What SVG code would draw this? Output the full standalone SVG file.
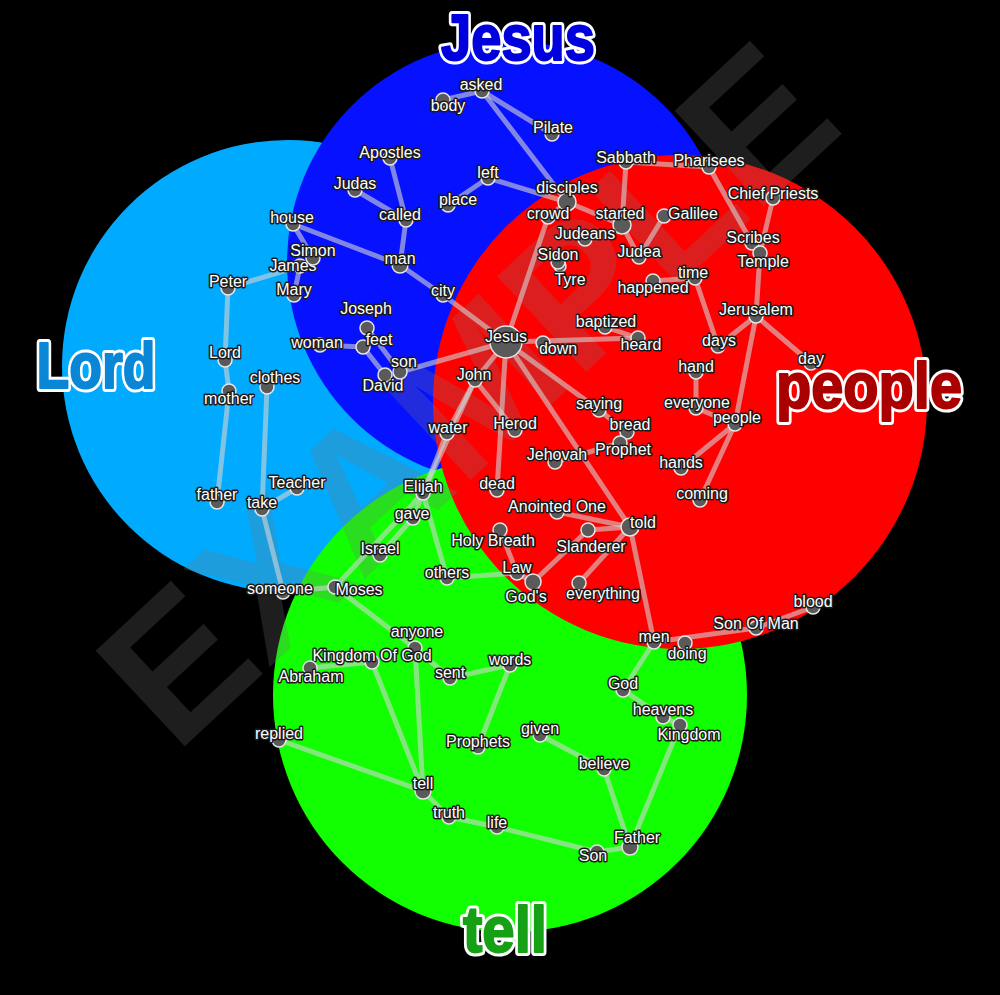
<svg xmlns="http://www.w3.org/2000/svg" width="1000" height="995" viewBox="0 0 1000 995">
<style>
.e{stroke:#d4d4d4;stroke-opacity:0.6;stroke-width:5;stroke-linecap:round;fill:none}
.n circle{fill:#5a5a5a;stroke:#e6e6e6;stroke-width:1.5}
.n text{font-family:"Liberation Sans",Arial,sans-serif;font-size:16px;fill:#fff;stroke:#1a1a1a;stroke-width:3;paint-order:stroke;stroke-linejoin:round;text-anchor:middle}
.t{font-family:"Liberation Sans",Arial,sans-serif;font-weight:bold;font-size:64px;stroke-linejoin:round;text-anchor:middle}
.to{stroke:#fff;stroke-width:8;fill:#fff}
</style>
<rect width="1000" height="995" fill="#000"/>
<g id="sets">
<circle cx="288" cy="366" r="226" fill="#00aaff"/>
<circle cx="508" cy="262" r="221" fill="#0612ff"/>
<circle cx="510" cy="695" r="237" fill="#11ff00"/>
<circle cx="680" cy="402" r="247" fill="#ff0000"/>
</g>
<text x="0" y="68" transform="translate(465,392) rotate(-43)" font-family="Liberation Sans,Arial,sans-serif" font-weight="bold" font-size="190" text-anchor="middle" fill="#777" fill-opacity="0.25">EXAMPLE</text>
<g id="titles">
<text class="t to" x="518" y="60" textLength="154" lengthAdjust="spacingAndGlyphs">Jesus</text>
<text class="t" x="518" y="60" fill="#0000dd" stroke="#0000dd" stroke-width="2" textLength="154" lengthAdjust="spacingAndGlyphs">Jesus</text>
<text class="t to" x="96" y="388" textLength="119" lengthAdjust="spacingAndGlyphs">Lord</text>
<text class="t" x="96" y="388" fill="#0a86d6" stroke="#0a86d6" stroke-width="2" textLength="119" lengthAdjust="spacingAndGlyphs">Lord</text>
<text class="t to" x="869" y="408" textLength="186" lengthAdjust="spacingAndGlyphs">people</text>
<text class="t" x="869" y="408" fill="#aa0000" stroke="#aa0000" stroke-width="2" textLength="186" lengthAdjust="spacingAndGlyphs">people</text>
<text class="t to" x="505" y="952" textLength="84" lengthAdjust="spacingAndGlyphs">tell</text>
<text class="t" x="505" y="952" fill="#16a016" stroke="#16a016" stroke-width="2" textLength="84" lengthAdjust="spacingAndGlyphs">tell</text>
</g>
<g id="connectors">
<line class="e" x1="443" y1="100" x2="482" y2="91"/>
<line class="e" x1="482" y1="91" x2="552" y2="134"/>
<line class="e" x1="482" y1="91" x2="567" y2="202"/>
<line class="e" x1="390" y1="158" x2="406" y2="220"/>
<line class="e" x1="355" y1="190" x2="406" y2="220"/>
<line class="e" x1="406" y1="220" x2="400" y2="265"/>
<line class="e" x1="448" y1="205" x2="488" y2="178"/>
<line class="e" x1="488" y1="178" x2="567" y2="202"/>
<line class="e" x1="293" y1="224" x2="400" y2="265"/>
<line class="e" x1="293" y1="224" x2="313" y2="258"/>
<line class="e" x1="300" y1="266" x2="294" y2="295"/>
<line class="e" x1="228" y1="288" x2="300" y2="266"/>
<line class="e" x1="228" y1="288" x2="225" y2="360"/>
<line class="e" x1="225" y1="360" x2="229" y2="391"/>
<line class="e" x1="229" y1="391" x2="217" y2="502"/>
<line class="e" x1="400" y1="265" x2="443" y2="295"/>
<line class="e" x1="443" y1="295" x2="506" y2="342"/>
<line class="e" x1="567" y1="202" x2="548" y2="217"/>
<line class="e" x1="567" y1="202" x2="622" y2="225"/>
<line class="e" x1="320" y1="345" x2="363" y2="347"/>
<line class="e" x1="363" y1="347" x2="385" y2="375"/>
<line class="e" x1="367" y1="328" x2="400" y2="372"/>
<line class="e" x1="400" y1="372" x2="506" y2="342"/>
<line class="e" x1="267" y1="387" x2="262" y2="509"/>
<line class="e" x1="262" y1="509" x2="297" y2="488"/>
<line class="e" x1="262" y1="509" x2="283" y2="592"/>
<line class="e" x1="283" y1="592" x2="335" y2="587"/>
<line class="e" x1="335" y1="587" x2="423" y2="493"/>
<line class="e" x1="413" y1="518" x2="380" y2="555"/>
<line class="e" x1="423" y1="493" x2="413" y2="518"/>
<line class="e" x1="423" y1="493" x2="447" y2="578"/>
<line class="e" x1="423" y1="493" x2="447" y2="433"/>
<line class="e" x1="447" y1="433" x2="475" y2="380"/>
<line class="e" x1="423" y1="493" x2="475" y2="380"/>
<line class="e" x1="475" y1="380" x2="515" y2="430"/>
<line class="e" x1="506" y1="342" x2="475" y2="380"/>
<line class="e" x1="506" y1="342" x2="497" y2="490"/>
<line class="e" x1="506" y1="342" x2="548" y2="217"/>
<line class="e" x1="506" y1="342" x2="638" y2="338"/>
<line class="e" x1="605" y1="327" x2="638" y2="338"/>
<line class="e" x1="506" y1="342" x2="599" y2="410"/>
<line class="e" x1="599" y1="410" x2="627" y2="432"/>
<line class="e" x1="627" y1="432" x2="620" y2="443"/>
<line class="e" x1="555" y1="462" x2="620" y2="443"/>
<line class="e" x1="506" y1="342" x2="630" y2="527"/>
<line class="e" x1="626" y1="162" x2="709" y2="167"/>
<line class="e" x1="626" y1="162" x2="622" y2="225"/>
<line class="e" x1="709" y1="167" x2="752" y2="243"/>
<line class="e" x1="773" y1="198" x2="760" y2="253"/>
<line class="e" x1="760" y1="253" x2="756" y2="316"/>
<line class="e" x1="756" y1="316" x2="718" y2="346"/>
<line class="e" x1="756" y1="316" x2="811" y2="363"/>
<line class="e" x1="756" y1="316" x2="735" y2="424"/>
<line class="e" x1="695" y1="278" x2="718" y2="346"/>
<line class="e" x1="653" y1="281" x2="695" y2="278"/>
<line class="e" x1="622" y1="225" x2="639" y2="257"/>
<line class="e" x1="664" y1="216" x2="639" y2="257"/>
<line class="e" x1="696" y1="372" x2="696" y2="408"/>
<line class="e" x1="696" y1="408" x2="735" y2="424"/>
<line class="e" x1="735" y1="424" x2="681" y2="468"/>
<line class="e" x1="735" y1="424" x2="700" y2="500"/>
<line class="e" x1="557" y1="512" x2="630" y2="527"/>
<line class="e" x1="588" y1="530" x2="630" y2="527"/>
<line class="e" x1="630" y1="527" x2="654" y2="642"/>
<line class="e" x1="579" y1="583" x2="630" y2="527"/>
<line class="e" x1="500" y1="530" x2="517" y2="573"/>
<line class="e" x1="517" y1="573" x2="533" y2="582"/>
<line class="e" x1="588" y1="530" x2="533" y2="582"/>
<line class="e" x1="517" y1="573" x2="447" y2="578"/>
<line class="e" x1="654" y1="642" x2="756" y2="628"/>
<line class="e" x1="756" y1="628" x2="813" y2="607"/>
<line class="e" x1="654" y1="642" x2="623" y2="690"/>
<line class="e" x1="623" y1="690" x2="663" y2="717"/>
<line class="e" x1="663" y1="717" x2="680" y2="725"/>
<line class="e" x1="680" y1="725" x2="630" y2="847"/>
<line class="e" x1="540" y1="735" x2="604" y2="769"/>
<line class="e" x1="604" y1="769" x2="630" y2="847"/>
<line class="e" x1="630" y1="847" x2="597" y2="852"/>
<line class="e" x1="597" y1="852" x2="497" y2="827"/>
<line class="e" x1="497" y1="827" x2="449" y2="817"/>
<line class="e" x1="449" y1="817" x2="423" y2="791"/>
<line class="e" x1="423" y1="791" x2="279" y2="740"/>
<line class="e" x1="423" y1="791" x2="372" y2="662"/>
<line class="e" x1="423" y1="791" x2="415" y2="648"/>
<line class="e" x1="372" y1="662" x2="310" y2="668"/>
<line class="e" x1="335" y1="587" x2="415" y2="648"/>
<line class="e" x1="415" y1="648" x2="450" y2="678"/>
<line class="e" x1="450" y1="678" x2="510" y2="665"/>
<line class="e" x1="510" y1="665" x2="478" y2="747"/>
</g>
<g id="nodes">
<g id="n-body" class="n"><circle cx="443" cy="100" r="7"/><text x="448" y="111">body</text></g>
<g id="n-asked" class="n"><circle cx="482" cy="91" r="7"/><text x="481" y="90">asked</text></g>
<g id="n-Pilate" class="n"><circle cx="552" cy="134" r="7"/><text x="553" y="133">Pilate</text></g>
<g id="n-Apostles" class="n"><circle cx="390" cy="158" r="7"/><text x="390" y="158">Apostles</text></g>
<g id="n-Judas" class="n"><circle cx="355" cy="190" r="7"/><text x="355" y="189">Judas</text></g>
<g id="n-called" class="n"><circle cx="406" cy="220" r="7"/><text x="400" y="220">called</text></g>
<g id="n-place" class="n"><circle cx="448" cy="205" r="7"/><text x="458" y="205">place</text></g>
<g id="n-left" class="n"><circle cx="488" cy="178" r="7"/><text x="488" y="178">left</text></g>
<g id="n-house" class="n"><circle cx="293" cy="224" r="7"/><text x="292" y="223">house</text></g>
<g id="n-James" class="n"><circle cx="300" cy="266" r="7"/><text x="293" y="271">James</text></g>
<g id="n-Simon" class="n"><circle cx="313" cy="258" r="7"/><text x="313" y="256">Simon</text></g>
<g id="n-Mary" class="n"><circle cx="294" cy="295" r="7"/><text x="294" y="295">Mary</text></g>
<g id="n-Peter" class="n"><circle cx="228" cy="288" r="7"/><text x="228" y="287">Peter</text></g>
<g id="n-man" class="n"><circle cx="400" cy="265" r="8"/><text x="400" y="264">man</text></g>
<g id="n-city" class="n"><circle cx="443" cy="295" r="7"/><text x="443" y="296">city</text></g>
<g id="n-Joseph" class="n"><circle cx="367" cy="328" r="7"/><text x="366" y="314">Joseph</text></g>
<g id="n-woman" class="n"><circle cx="320" cy="345" r="7"/><text x="317" y="348">woman</text></g>
<g id="n-feet" class="n"><circle cx="363" cy="347" r="7"/><text x="379" y="345">feet</text></g>
<g id="n-David" class="n"><circle cx="385" cy="375" r="7"/><text x="383" y="391">David</text></g>
<g id="n-son" class="n"><circle cx="400" cy="372" r="7"/><text x="404" y="367">son</text></g>
<g id="n-Lord" class="n"><circle cx="225" cy="360" r="7"/><text x="225" y="358">Lord</text></g>
<g id="n-mother" class="n"><circle cx="229" cy="391" r="7"/><text x="229" y="404">mother</text></g>
<g id="n-clothes" class="n"><circle cx="267" cy="387" r="7"/><text x="275" y="383">clothes</text></g>
<g id="n-water" class="n"><circle cx="447" cy="433" r="7"/><text x="448" y="433">water</text></g>
<g id="n-Teacher" class="n"><circle cx="297" cy="488" r="7"/><text x="297" y="488">Teacher</text></g>
<g id="n-father" class="n"><circle cx="217" cy="502" r="7"/><text x="217" y="500">father</text></g>
<g id="n-take" class="n"><circle cx="262" cy="509" r="7"/><text x="262" y="508">take</text></g>
<g id="n-Elijah" class="n"><circle cx="423" cy="493" r="7"/><text x="423" y="492">Elijah</text></g>
<g id="n-gave" class="n"><circle cx="413" cy="518" r="7"/><text x="412" y="519">gave</text></g>
<g id="n-Israel" class="n"><circle cx="380" cy="555" r="7"/><text x="380" y="554">Israel</text></g>
<g id="n-Jesus" class="n"><circle cx="506" cy="342" r="16"/><text x="506" y="342">Jesus</text></g>
<g id="n-down" class="n"><circle cx="543" cy="343" r="7"/><text x="558" y="354">down</text></g>
<g id="n-baptized" class="n"><circle cx="605" cy="327" r="7"/><text x="606" y="327">baptized</text></g>
<g id="n-heard" class="n"><circle cx="638" cy="338" r="7"/><text x="641" y="350">heard</text></g>
<g id="n-John" class="n"><circle cx="475" cy="380" r="7"/><text x="474" y="380">John</text></g>
<g id="n-saying" class="n"><circle cx="599" cy="410" r="7"/><text x="599" y="409">saying</text></g>
<g id="n-bread" class="n"><circle cx="627" cy="432" r="7"/><text x="630" y="430">bread</text></g>
<g id="n-Herod" class="n"><circle cx="515" cy="430" r="7"/><text x="515" y="429">Herod</text></g>
<g id="n-Prophet" class="n"><circle cx="620" cy="443" r="7"/><text x="623" y="455">Prophet</text></g>
<g id="n-Jehovah" class="n"><circle cx="555" cy="462" r="7"/><text x="557" y="460">Jehovah</text></g>
<g id="n-hand" class="n"><circle cx="696" cy="372" r="7"/><text x="696" y="372">hand</text></g>
<g id="n-everyone" class="n"><circle cx="696" cy="408" r="7"/><text x="697" y="408">everyone</text></g>
<g id="n-hands" class="n"><circle cx="681" cy="468" r="7"/><text x="681" y="468">hands</text></g>
<g id="n-coming" class="n"><circle cx="700" cy="500" r="7"/><text x="702" y="499">coming</text></g>
<g id="n-dead" class="n"><circle cx="497" cy="490" r="7"/><text x="497" y="489">dead</text></g>
<g id="n-AnointedOne" class="n"><circle cx="557" cy="512" r="7"/><text x="557" y="512">Anointed One</text></g>
<g id="n-HolyBreath" class="n"><circle cx="500" cy="530" r="7"/><text x="493" y="546">Holy Breath</text></g>
<g id="n-Slanderer" class="n"><circle cx="588" cy="530" r="7"/><text x="591" y="552">Slanderer</text></g>
<g id="n-told" class="n"><circle cx="630" cy="527" r="9"/><text x="643" y="528">told</text></g>
<g id="n-Law" class="n"><circle cx="517" cy="573" r="7"/><text x="517" y="573">Law</text></g>
<g id="n-Gods" class="n"><circle cx="533" cy="582" r="8"/><text x="526" y="602">God's</text></g>
<g id="n-everything" class="n"><circle cx="579" cy="583" r="7"/><text x="603" y="599">everything</text></g>
<g id="n-men" class="n"><circle cx="654" cy="642" r="7"/><text x="654" y="642">men</text></g>
<g id="n-doing" class="n"><circle cx="685" cy="643" r="7"/><text x="687" y="659">doing</text></g>
<g id="n-SonOfMan" class="n"><circle cx="756" cy="628" r="7"/><text x="756" y="629">Son Of Man</text></g>
<g id="n-blood" class="n"><circle cx="813" cy="607" r="7"/><text x="813" y="607">blood</text></g>
<g id="n-words" class="n"><circle cx="510" cy="665" r="7"/><text x="510" y="665">words</text></g>
<g id="n-God" class="n"><circle cx="623" cy="690" r="7"/><text x="623" y="689">God</text></g>
<g id="n-heavens" class="n"><circle cx="663" cy="717" r="7"/><text x="663" y="715">heavens</text></g>
<g id="n-Kingdom" class="n"><circle cx="680" cy="725" r="7"/><text x="689" y="740">Kingdom</text></g>
<g id="n-given" class="n"><circle cx="540" cy="735" r="7"/><text x="540" y="734">given</text></g>
<g id="n-believe" class="n"><circle cx="604" cy="769" r="7"/><text x="604" y="769">believe</text></g>
<g id="n-someone" class="n"><circle cx="283" cy="592" r="7"/><text x="280" y="594">someone</text></g>
<g id="n-Moses" class="n"><circle cx="335" cy="587" r="7"/><text x="359" y="595">Moses</text></g>
<g id="n-others" class="n"><circle cx="447" cy="578" r="7"/><text x="447" y="578">others</text></g>
<g id="n-anyone" class="n"><circle cx="415" cy="648" r="7"/><text x="417" y="637">anyone</text></g>
<g id="n-KingdomOfGod" class="n"><circle cx="372" cy="662" r="7"/><text x="372" y="661">Kingdom Of God</text></g>
<g id="n-Abraham" class="n"><circle cx="310" cy="668" r="7"/><text x="311" y="682">Abraham</text></g>
<g id="n-sent" class="n"><circle cx="450" cy="678" r="7"/><text x="450" y="678">sent</text></g>
<g id="n-Prophets" class="n"><circle cx="478" cy="747" r="7"/><text x="478" y="747">Prophets</text></g>
<g id="n-replied" class="n"><circle cx="279" cy="740" r="7"/><text x="279" y="739">replied</text></g>
<g id="n-tell" class="n"><circle cx="423" cy="791" r="8"/><text x="423" y="789">tell</text></g>
<g id="n-truth" class="n"><circle cx="449" cy="817" r="7"/><text x="449" y="818">truth</text></g>
<g id="n-life" class="n"><circle cx="497" cy="827" r="7"/><text x="497" y="828">life</text></g>
<g id="n-Son" class="n"><circle cx="597" cy="852" r="7"/><text x="593" y="861">Son</text></g>
<g id="n-Father" class="n"><circle cx="630" cy="847" r="8"/><text x="637" y="843">Father</text></g>
<g id="n-Sabbath" class="n"><circle cx="626" cy="162" r="7"/><text x="626" y="163">Sabbath</text></g>
<g id="n-Pharisees" class="n"><circle cx="709" cy="167" r="7"/><text x="709" y="166">Pharisees</text></g>
<g id="n-disciples" class="n"><circle cx="567" cy="202" r="9"/><text x="567" y="193">disciples</text></g>
<g id="n-crowd" class="n"><circle cx="548" cy="217" r="7"/><text x="548" y="219">crowd</text></g>
<g id="n-started" class="n"><circle cx="622" cy="225" r="9"/><text x="620" y="219">started</text></g>
<g id="n-Galilee" class="n"><circle cx="664" cy="216" r="7"/><text x="693" y="219">Galilee</text></g>
<g id="n-Judeans" class="n"><circle cx="585" cy="239" r="7"/><text x="585" y="239">Judeans</text></g>
<g id="n-Judea" class="n"><circle cx="639" cy="257" r="7"/><text x="639" y="257">Judea</text></g>
<g id="n-Tyre" class="n"><circle cx="560" cy="266" r="6"/><text x="570" y="285">Tyre</text></g>
<g id="n-Sidon" class="n"><circle cx="558" cy="262" r="7"/><text x="558" y="260">Sidon</text></g>
<g id="n-happened" class="n"><circle cx="653" cy="281" r="7"/><text x="653" y="293">happened</text></g>
<g id="n-time" class="n"><circle cx="695" cy="278" r="7"/><text x="693" y="278">time</text></g>
<g id="n-ChiefPriests" class="n"><circle cx="773" cy="198" r="7"/><text x="773" y="199">Chief Priests</text></g>
<g id="n-Scribes" class="n"><circle cx="752" cy="243" r="7"/><text x="753" y="243">Scribes</text></g>
<g id="n-Temple" class="n"><circle cx="760" cy="253" r="7"/><text x="763" y="267">Temple</text></g>
<g id="n-Jerusalem" class="n"><circle cx="756" cy="316" r="7"/><text x="756" y="315">Jerusalem</text></g>
<g id="n-days" class="n"><circle cx="718" cy="346" r="7"/><text x="719" y="346">days</text></g>
<g id="n-day" class="n"><circle cx="811" cy="363" r="7"/><text x="811" y="364">day</text></g>
<g id="n-people" class="n"><circle cx="735" cy="424" r="7"/><text x="737" y="423">people</text></g>
</g>
</svg>
